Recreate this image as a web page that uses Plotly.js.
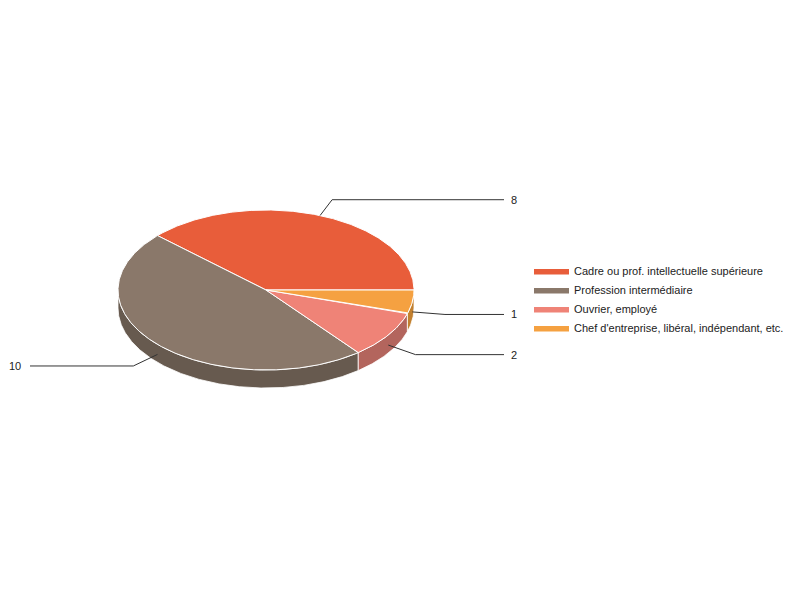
<!DOCTYPE html>
<html>
<head>
<meta charset="utf-8">
<script src="https://cdn.plot.ly/plotly-3.0.1.min.js"></script>
<style>html,body{margin:0;padding:0;background:#fff;}#chart{width:800px;height:600px;}</style>
</head>
<body>
<div id="chart"></div>
<script>
// ---- data ----
const categories = ['Cadre ou prof. intellectuelle supérieure', 'Profession intermédiaire', 'Ouvrier, employé', "Chef d'entreprise, libéral, indépendant, etc."];
const values = [8, 10, 2, 1];
const valueLabels = ['8', '10', '2', '1'];
const topColors = ['#e85d3a', '#8a786a', '#ef8377', '#f5a141'];
const sideColors = ['#b04a2f', '#675a4f', '#b3655d', '#c2802f'];

// ---- geometry (layout constants, pixels) ----
const CX = 266, CY = 290, RX = 148, RY = 80, D = 18;
const RIGHT_END = 504, LEFT_END = 30;

function pt(a, dy) { return [CX + RX * Math.cos(a), CY - RY * Math.sin(a) + (dy || 0)]; }
function arc(a1, a2, dy) {
  const pts = [];
  const n = Math.max(2, Math.ceil(Math.abs(a2 - a1) / (Math.PI / 360)));
  for (let i = 0; i <= n; i++) pts.push(pt(a1 + (a2 - a1) * i / n, dy));
  return pts;
}

const total = values.reduce((s, v) => s + v, 0);
const slices = [];
let acc = 0;
values.forEach((v, i) => {
  const a1 = acc / total * 2 * Math.PI;
  acc += v;
  const a2 = acc / total * 2 * Math.PI;
  slices.push({ a1, a2, i });
});

const traces = [];
// walls (front half only)
slices.forEach(s => {
  const lo = Math.max(s.a1, Math.PI), hi = Math.min(s.a2, 2 * Math.PI);
  if (lo < hi) {
    const pts = arc(lo, hi, 0).concat(arc(hi, lo, D));
    pts.push(pts[0]);
    traces.push({
      type: 'scatter', mode: 'lines', fill: 'toself',
      x: pts.map(p => p[0]), y: pts.map(p => p[1]),
      fillcolor: sideColors[s.i], line: { color: '#ffffff', width: 0.8 },
      showlegend: false, hoverinfo: 'skip'
    });
  }
});
// top faces
slices.forEach(s => {
  const pts = [[CX, CY]].concat(arc(s.a1, s.a2, 0));
  pts.push([CX, CY]);
  traces.push({
    type: 'scatter', mode: 'lines', fill: 'toself', name: categories[s.i],
    x: pts.map(p => p[0]), y: pts.map(p => p[1]),
    fillcolor: topColors[s.i], line: { color: '#ffffff', width: 1 },
    showlegend: true, hoverinfo: 'skip'
  });
});
// leader lines + labels
const annotations = [];
slices.forEach(s => {
  const m = (s.a1 + s.a2) / 2;
  const c = Math.cos(m), sn = Math.sin(m);
  const a = pt(m, sn < 0 ? D / 2 + 1 : 0);
  const e = [a[0] + 33 * c, a[1] - 17 * sn];
  const endX = c >= 0 ? RIGHT_END : LEFT_END;
  traces.push({
    type: 'scatter', mode: 'lines', x: [a[0], e[0], endX], y: [a[1], e[1], e[1]],
    line: { color: '#333333', width: 1 }, showlegend: false, hoverinfo: 'skip'
  });
  annotations.push({
    x: c >= 0 ? endX + 5 : endX - 7, y: e[1], xref: 'x', yref: 'y',
    text: valueLabels[s.i], showarrow: false,
    xanchor: c >= 0 ? 'left' : 'right', yanchor: 'middle',
    font: { family: 'Liberation Sans, Arial, sans-serif', size: 11, color: '#222222' }
  });
});

const layout = {
  width: 800, height: 600,
  margin: { l: 0, r: 0, t: 0, b: 0 },
  paper_bgcolor: '#ffffff', plot_bgcolor: '#ffffff',
  xaxis: { range: [0, 800], visible: false, fixedrange: true },
  yaxis: { range: [600, 0], visible: false, fixedrange: true },
  showlegend: true,
  legend: {
    x: 529 / 800, y: 1 - 256 / 600, xanchor: 'left', yanchor: 'top',
    itemwidth: 35,
    font: { family: 'Liberation Sans, Arial, sans-serif', size: 11, color: '#222222' },
    bgcolor: 'rgba(0,0,0,0)'
  },
  annotations: annotations,
  hovermode: false
};

Plotly.newPlot('chart', traces, layout, { staticPlot: true, displayModeBar: false });
</script>
</body>
</html>
